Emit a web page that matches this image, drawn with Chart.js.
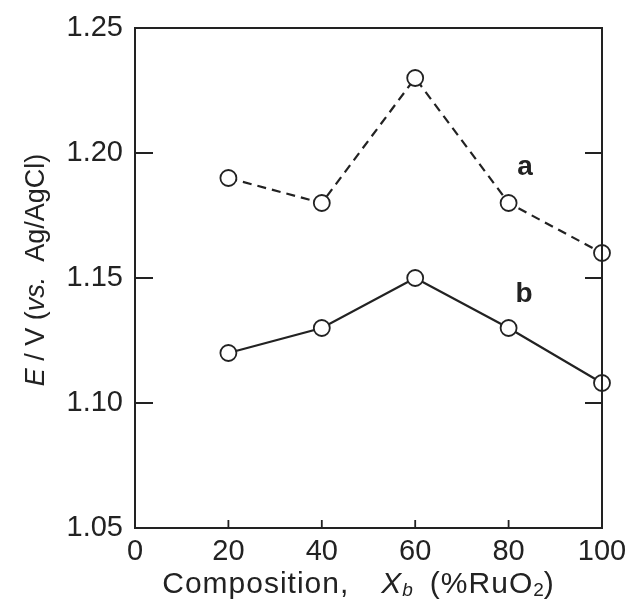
<!DOCTYPE html>
<html>
<head>
<meta charset="utf-8">
<script src="https://cdn.jsdelivr.net/npm/chart.js@4.4.1/dist/chart.umd.min.js"></script>
<style>
  html, body { margin: 0; padding: 0; background: #fff; }
  #wrap { width: 625px; height: 600px; }
</style>
</head>
<body>
<div id="wrap"><canvas id="c" width="625" height="600"></canvas></div>
<script>
// Composition of RuO2 (%)
const composition = [20, 40, 60, 80, 100];
// Potential E / V vs. Ag/AgCl
const seriesA = [1.19, 1.18, 1.23, 1.18, 1.16];
const seriesB = [1.12, 1.13, 1.15, 1.13, 1.108];
// Curve labels and their baseline anchor (x, E)
const curveLabels = ['a', 'b'];
const curveLabelPos = [[83.5, 1.1912], [83.3, 1.1404]];
const yTicks = [1.05, 1.10, 1.15, 1.20, 1.25];
const xTicks = [0, 20, 40, 60, 80, 100];

const INK = '#222222';
const FONT = '"Liberation Sans", Arial, Helvetica, sans-serif';

// Draw text made of runs with different styles along a baseline
function drawRuns(ctx, runs, x, y, align) {
  let total = 0;
  runs.forEach(r => {
    ctx.font = r.font;
    ctx.letterSpacing = (r.ls || 0) + 'px';
    r.w = ctx.measureText(r.text).width;
    total += r.w + (r.gap || 0);
  });
  let cx = align === 'center' ? x - total / 2 : x;
  runs.forEach(r => {
    ctx.font = r.font;
    ctx.letterSpacing = (r.ls || 0) + 'px';
    ctx.fillText(r.text, cx, y + (r.dy || 0));
    cx += r.w + (r.gap || 0);
  });
  ctx.letterSpacing = '0px';
}

const framePlugin = {
  id: 'frame',
  afterDatasetsDraw(chart) {
    const { ctx, chartArea: a, scales } = chart;
    const xs = scales.x, ys = scales.y;
    ctx.save();
    ctx.strokeStyle = INK;
    ctx.lineWidth = 2;
    // top and right borders
    ctx.beginPath();
    ctx.moveTo(a.left, a.top); ctx.lineTo(a.right, a.top); ctx.lineTo(a.right, a.bottom);
    ctx.stroke();
    // inward ticks
    ctx.lineWidth = 1.8;
    ctx.beginPath();
    yTicks.slice(1, -1).forEach(v => {
      const py = ys.getPixelForValue(v);
      ctx.moveTo(a.left, py); ctx.lineTo(a.left + 18, py);
      ctx.moveTo(a.right, py); ctx.lineTo(a.right - 17, py);
    });
    xTicks.slice(1, -1).forEach(v => {
      const px = xs.getPixelForValue(v);
      ctx.moveTo(px, a.bottom); ctx.lineTo(px, a.bottom - 8);
    });
    ctx.stroke();

    // curve labels
    ctx.fillStyle = INK;
    ctx.font = 'bold 28px ' + FONT;
    ctx.textAlign = 'center';
    ctx.textBaseline = 'alphabetic';
    curveLabels.forEach((t, i) => {
      const p = curveLabelPos[i];
      ctx.fillText(t, xs.getPixelForValue(p[0]), ys.getPixelForValue(p[1]));
    });
    ctx.restore();
  },
  afterDraw(chart) {
    const { ctx } = chart;
    ctx.save();
    ctx.fillStyle = INK;
    ctx.textAlign = 'left';
    ctx.textBaseline = 'alphabetic';
    const reg = '30px ' + FONT;
    const ital = 'italic 30px ' + FONT;
    const subI = 'italic 19px ' + FONT;
    const sub = '19px ' + FONT;
    // x-axis title
    drawRuns(ctx, [
      { text: 'Composition,', font: reg, ls: 1, gap: 32 },
      { text: 'X', font: ital, ls: 1 },
      { text: 'b', font: subI, dy: 3, gap: 17 },
      { text: '(%RuO', font: reg, ls: 1 },
      { text: '2', font: sub, dy: 3 },
      { text: ')', font: reg }
    ], 358, 593, 'center');
    // y-axis title
    ctx.translate(44, 270);
    ctx.rotate(-Math.PI / 2);
    const yr = '27px ' + FONT, yi = 'italic 27px ' + FONT;
    drawRuns(ctx, [
      { text: 'E', font: yi },
      { text: ' / V (', font: yr },
      { text: 'vs.', font: yi },
      { text: '  Ag/AgCl)', font: yr }
    ], 0, 0, 'center');
    ctx.restore();
  }
};

const pointStyle = {
  pointRadius: 8,
  pointHoverRadius: 8,
  pointBackgroundColor: '#ffffff',
  pointBorderColor: INK,
  pointBorderWidth: 1.8
};

new Chart(document.getElementById('c'), {
  type: 'line',
  data: {
    datasets: [
      Object.assign({
        label: 'a',
        data: composition.map((x, i) => ({ x, y: seriesA[i] })),
        borderColor: INK, borderWidth: 2.2, borderDash: [9, 6],
        fill: false, tension: 0, clip: false
      }, pointStyle),
      Object.assign({
        label: 'b',
        data: composition.map((x, i) => ({ x, y: seriesB[i] })),
        borderColor: INK, borderWidth: 2.2,
        fill: false, tension: 0, clip: false
      }, pointStyle)
    ]
  },
  options: {
    responsive: false,
    animation: false,
    layout: { padding: { top: 28, right: 23, left: 0, bottom: 0 } },
    plugins: { legend: { display: false }, tooltip: { enabled: false } },
    scales: {
      x: {
        type: 'linear', min: 0, max: 100,
        afterBuildTicks(s) { s.ticks = xTicks.map(v => ({ value: v })); },
        afterFit(s) { s.height = 72; s.paddingLeft = 0; s.paddingRight = 0; },
        grid: { display: false, drawTicks: false },
        border: { display: true, color: INK, width: 2 },
        ticks: { color: INK, font: { family: FONT, size: 29 }, padding: 7, maxRotation: 0 }
      },
      y: {
        type: 'linear', min: 1.05, max: 1.25,
        afterBuildTicks(s) { s.ticks = yTicks.map(v => ({ value: v })); },
        afterFit(s) { s.width = 135; s.paddingTop = 0; s.paddingBottom = 0; },
        grid: { display: false, drawTicks: false },
        border: { display: true, color: INK, width: 2 },
        ticks: { color: INK, font: { family: FONT, size: 29 }, padding: 12,
                 callback: v => Number(v).toFixed(2) }
      }
    }
  },
  plugins: [framePlugin]
});
</script>
</body>
</html>
